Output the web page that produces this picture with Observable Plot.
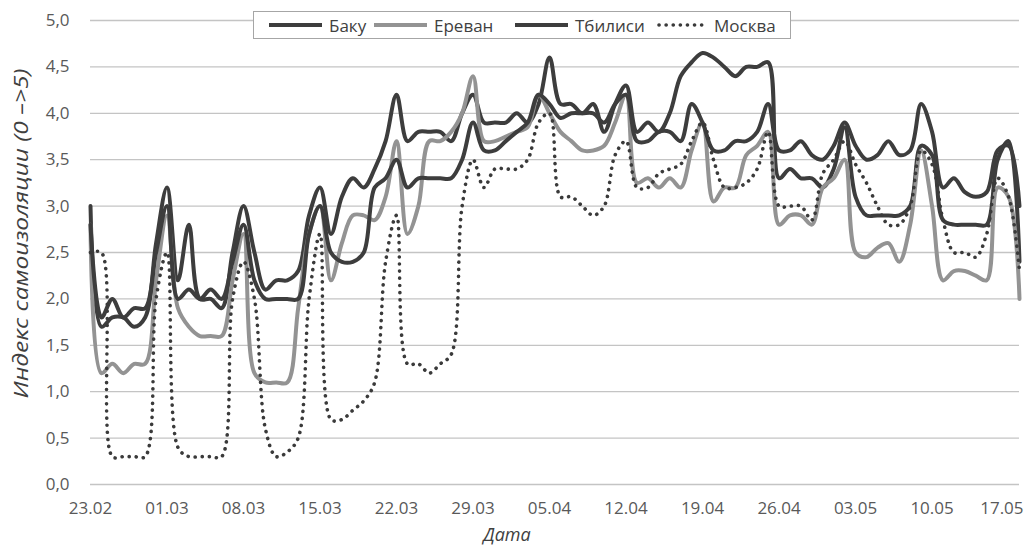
<!DOCTYPE html>
<html><head><meta charset="utf-8">
<script src="https://cdn.jsdelivr.net/npm/d3@7"></script>
<script src="https://cdn.jsdelivr.net/npm/@observablehq/plot@0.6"></script>
<style>
body{margin:0;background:#fff;}
#wrap{position:relative;width:1028px;height:553px;overflow:hidden;}
#legend{position:absolute;left:253px;top:11px;width:538px;height:28px;border:1px solid #a6a6a6;background:#fff;box-sizing:border-box;font-family:"Open Sans",sans-serif;font-size:17px;color:#404040;}
#legend .item{position:absolute;top:0;height:26px;display:flex;align-items:center;white-space:nowrap;}
#legend svg{display:block;margin-right:5px;}
</style></head>
<body><div id="wrap"><div id="chart"></div><div id="legend"></div></div>
<script>
// Index of self-isolation, daily values from 23.02 to 18.05
const seriesNames = ["Баку", "Ереван", "Тбилиси", "Москва"];
const baku = [
 3.0,1.7,1.8,1.8,1.7,1.8,2.6,3.2,2.2,2.8,2.0,2.0,1.9,2.5,3.0,
 2.5,2.1,2.2,2.2,2.3,2.9,3.2,2.7,3.1,3.3,3.2,3.4,3.7,4.2,
 3.7,3.8,3.8,3.8,3.7,4.0,4.2,3.9,3.9,3.9,4.0,3.9,4.1,4.6,
 4.1,4.1,4.0,4.1,3.8,4.1,4.3,3.8,3.9,3.8,4.0,4.4,4.55,4.65,
 4.6,4.5,4.4,4.5,4.5,4.55,3.3,3.4,3.3,3.3,3.2,3.4,3.85,3.1,
 2.9,2.9,2.9,2.9,3.0,3.65,3.55,2.85,2.8,2.8,2.8,2.8,3.5,3.7,2.4];
const yerevan = [
 2.8,1.2,1.3,1.2,1.3,1.3,2.2,2.9,1.9,1.7,1.6,1.6,1.6,2.2,2.7,
 1.2,1.1,1.1,1.1,1.9,2.7,3.0,2.2,2.6,2.9,2.9,2.85,3.1,3.7,
 2.7,3.0,3.7,3.7,3.8,4.0,4.4,3.7,3.7,3.75,3.8,3.85,4.2,4.0,
 3.8,3.7,3.6,3.6,3.65,3.9,4.2,3.25,3.3,3.2,3.3,3.2,3.6,3.9,
 3.05,3.2,3.2,3.55,3.65,3.8,2.8,2.9,2.9,2.8,3.2,3.3,3.5,2.5,
 2.45,2.55,2.6,2.4,2.8,3.6,3.0,2.2,2.3,2.3,2.25,2.2,3.2,3.1,2.0];
const tbilisi = [
 2.8,1.8,2.0,1.8,1.9,1.9,2.5,3.0,2.0,2.1,2.0,2.1,2.0,2.4,2.8,
 2.2,2.0,2.0,2.0,2.0,2.7,3.0,2.5,2.4,2.4,2.5,3.2,3.3,3.5,
 3.2,3.3,3.3,3.3,3.3,3.5,3.9,3.6,3.6,3.7,3.8,3.9,4.2,4.1,
 3.95,4.0,4.0,4.0,3.9,4.1,4.2,3.7,3.7,3.8,3.8,3.7,4.1,3.9,
 3.6,3.6,3.7,3.7,3.8,4.1,3.6,3.6,3.7,3.55,3.5,3.65,3.9,3.65,
 3.5,3.55,3.7,3.55,3.6,4.1,3.8,3.2,3.3,3.15,3.1,3.15,3.6,3.65,3.0];
const moscow = [
 2.5,2.5,0.3,0.3,0.3,0.3,2.0,2.5,0.4,0.3,0.3,0.3,0.3,2.0,2.4,
 2.0,0.6,0.3,0.35,0.5,2.0,2.7,0.7,0.7,0.8,0.9,1.1,2.4,2.9,
 1.3,1.3,1.2,1.3,1.4,3.0,3.5,3.2,3.4,3.4,3.4,3.5,3.9,4.0,
 3.1,3.1,3.0,2.9,3.0,3.55,3.7,3.2,3.2,3.35,3.4,3.45,3.7,3.9,
 3.5,3.2,3.2,3.25,3.4,3.8,3.0,3.0,3.0,2.85,3.35,3.5,3.7,3.45,
 3.25,3.0,2.8,2.8,3.0,3.6,3.45,2.85,2.5,2.5,2.45,2.7,3.3,3.1,2.3];
const xTickLabels = ["23.02","01.03","08.03","15.03","22.03","29.03","05.04","12.04","19.04","26.04","03.05","10.05","17.05"];
const yTicks = [0,0.5,1,1.5,2,2.5,3,3.5,4,4.5,5];
const yTitle = "Индекс самоизоляции (0 –>5)";
const xTitle = "Дата";

const year = 2020;
const dates = d3.utcDay.range(new Date(Date.UTC(year,1,23)), new Date(Date.UTC(year,4,19)));
const parseTick = s => { const [d,m] = s.split(".").map(Number); return new Date(Date.UTC(year, m-1, d)); };
const xTicks = xTickLabels.map(parseTick);

const styles = {
  "Баку":    {stroke: "#3d3d3d", strokeWidth: 4},
  "Ереван":  {stroke: "#939393", strokeWidth: 4},
  "Тбилиси": {stroke: "#3d3d3d", strokeWidth: 4},
  "Москва":  {stroke: "#3a3a3a", strokeWidth: 3.6, strokeDasharray: "0.1 7", strokeLinecap: "round"}
};
const valuesList = [baku, yerevan, tbilisi, moscow];
const table = seriesNames.map((name, k) => valuesList[k].map((v, i) => ({date: dates[i], value: v, name})));

const lineMarks = table.map((rows, k) => Plot.line(rows, {
  x: "date", y: "value", curve: "catmull-rom", strokeLinejoin: "round",
  ...styles[seriesNames[k]]
}));

const tickFont = 17;
const chart = Plot.plot({
  width: 1028, height: 553,
  marginLeft: 90, marginRight: 9, marginTop: 20, marginBottom: 69,
  style: {fontFamily: "'Open Sans', sans-serif", fontSize: tickFont + "px", color: "#595959", background: "white"},
  x: {type: "utc", domain: [dates[0], dates[dates.length-1]]},
  y: {domain: [0, 5]},
  marks: [
    Plot.ruleY(yTicks, {stroke: "#c4c4c4", strokeWidth: 1.3}),
    Plot.axisY({ticks: yTicks, tickFormat: d => d.toFixed(1).replace(".", ","), tickSize: 0, tickPadding: 21, label: null, fontSize: tickFont}),
    Plot.axisX(xTicks.slice(0, -1), {tickFormat: (d, i) => xTickLabels[i], tickSize: 0, tickPadding: 17, label: null, fontSize: tickFont}),
    Plot.text(xTicks.slice(-1), {x: d => d, text: () => xTickLabels[xTickLabels.length-1], frameAnchor: "bottom", lineAnchor: "top", textAnchor: "end", dy: 17, dx: 15, fontSize: tickFont, fill: "#595959"}),
    ...lineMarks,
    Plot.text([yTitle], {frameAnchor: "left", textAnchor: "middle", rotate: -90, dx: -69, dy: -19, fontStyle: "italic", fontSize: 20, fill: "#404040", className: "ytitle"}),
    Plot.text([xTitle], {frameAnchor: "bottom", textAnchor: "middle", dx: -48, dy: 56, fontStyle: "italic", fontSize: 18, fill: "#404040"})
  ]
});
d3.select(chart).selectAll(".ytitle text").attr("textLength", 330).attr("lengthAdjust", "spacingAndGlyphs");
document.getElementById("chart").appendChild(chart);

// Legend
const legend = document.getElementById("legend");
const legendLeft = [13, 118, 259, 403];
seriesNames.forEach((name, k) => {
  const st = styles[name];
  const item = document.createElement("div");
  item.className = "item";
  item.style.left = legendLeft[k] + "px";
  const w = k === 3 ? 52 : 57;
  item.innerHTML = `<svg width="${w}" height="10"><line x1="2" y1="5" x2="${w-2}" y2="5" stroke="${st.stroke}" stroke-width="${st.strokeWidth}" ${st.strokeDasharray ? `stroke-dasharray="${st.strokeDasharray}" stroke-linecap="round"` : ""}/></svg><span>${name}</span>`;
  legend.appendChild(item);
});
</script>
</body></html>
